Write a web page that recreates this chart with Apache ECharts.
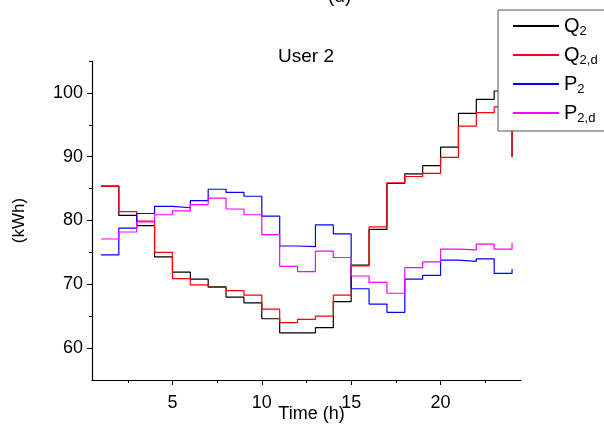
<!DOCTYPE html>
<html>
<head>
<meta charset="utf-8">
<script src="https://cdn.jsdelivr.net/npm/echarts@6/dist/echarts.min.js"></script>
<style>
	html, body { margin: 0; padding: 0; background: #fff; }
	#main { width: 604px; height: 430px; }
</style>
</head>
<body>
<div id="main"></div>
<script>
	// hours 1..24, each value holds until the next hour (step end)
	var hours = [1, 2, 3, 4, 5, 6, 7, 8, 9, 10, 11, 12, 13, 14, 15, 16, 17, 18, 19, 20, 21, 22, 23, 24]
	var q2 = [85.4, 80.8, 79.2, 74.3, 71.9, 70.8, 69.6, 68.0, 67.1, 64.6, 62.4, 62.4, 63.2, 67.3, 73.0, 78.6, 85.8, 87.3, 88.6, 91.5, 96.8, 99.0, 100.3, 90.0]
	var q2d = [85.4, 81.4, 79.9, 75.0, 70.9, 69.9, 69.5, 69.0, 68.3, 66.1, 64.0, 64.5, 65.0, 68.3, 72.9, 79.0, 85.9, 86.9, 87.4, 89.9, 94.8, 96.9, 97.8, 89.9]
	var p2 = [74.6, 78.8, 81.1, 82.2, 82.0, 83.1, 84.9, 84.4, 83.8, 80.7, 76.0, 75.9, 79.3, 77.9, 69.3, 66.9, 65.6, 70.8, 71.4, 73.8, 73.6, 74.0, 71.7, 72.4]
	var p2d = [77.1, 78.2, 79.8, 80.9, 81.5, 82.5, 83.5, 81.8, 80.9, 77.8, 72.8, 72.0, 75.2, 74.2, 71.3, 70.3, 68.6, 72.6, 73.5, 75.5, 75.4, 76.3, 75.5, 76.5]

	var xTicks = [5, 10, 15, 20]
	var xMinor = [2.5, 7.5, 12.5, 17.5, 22.5]
	var yTicks = [60, 70, 80, 90, 100]
	var yMinor = [65, 75, 85, 95, 105]

	var names = ['Q2', 'Q2,d', 'P2', 'P2,d']
	var colors = ['#000000', '#ff0000', '#0000ff', '#ff00ff']

	var font = 'Liberation Sans'

	function pairs(vals) {
		return hours.map(function (h, i) { return [h, vals[i]] })
	}

	function mkSeries(name, vals, color) {
		return {
			name: name,
			type: 'line',
			step: 'end',
			symbol: 'none',
			animation: false,
			data: pairs(vals),
			lineStyle: { color: color, width: 1.2 },
			itemStyle: { color: color }
		}
	}

	var axisBase = {
		type: 'value',
		splitLine: { show: false },
		axisLine: { onZero: false, lineStyle: { color: '#000', width: 1.2 } }
	}

	var chart = echarts.init(document.getElementById('main'))
	chart.setOption({
		animation: false,
		grid: { left: 92, right: 83, top: 61, bottom: 50, containLabel: false, outerBoundsMode: 'none' },
		graphic: [
			{ type: 'text', left: 328, top: -13, style: { text: '(d)', font: '19px ' + font, fill: '#000' } },
			{ type: 'text', left: 278, top: 47, style: { text: 'User 2', font: '19px ' + font, fill: '#000' } }
		],
		legend: {
			left: 498,
			top: 10,
			orient: 'vertical',
			padding: [6, 40, 6, 14],
			itemWidth: 46,
			itemHeight: 14,
			itemGap: 7,
			borderColor: '#555',
			borderWidth: 1,
			backgroundColor: '#fff',
			itemStyle: { opacity: 0 },
			data: names,
			formatter: function (n) {
				// first letter normal, rest as subscript
				return '{m|' + n.charAt(0) + '}{s|' + n.slice(1) + '}'
			},
			textStyle: {
				color: '#000',
				rich: {
					m: { fontFamily: font, fontSize: 20, lineHeight: 24, verticalAlign: 'middle', color: '#000' },
					s: { fontFamily: font, fontSize: 13, lineHeight: 24, verticalAlign: 'bottom', color: '#000' }
				}
			}
		},
		xAxis: [
			Object.assign({}, axisBase, {
				min: 0.5,
				max: 24.5,
				position: 'bottom',
				name: 'Time (h)',
				nameLocation: 'middle',
				nameGap: 25,
				nameMoveOverlap: false,
				nameTextStyle: { fontFamily: font, fontSize: 18, color: '#000', padding: [0, 0, 0, 10] },
				axisTick: { customValues: xTicks, length: 5, lineStyle: { color: '#000' } },
				axisLabel: { customValues: xTicks, margin: 14, fontFamily: font, fontSize: 18, color: '#000' }
			}),
			// minor ticks only
			Object.assign({}, axisBase, {
				min: 0.5,
				max: 24.5,
				position: 'bottom',
				axisLine: { show: false },
				axisTick: { customValues: xMinor, length: 3, lineStyle: { color: '#000' } },
				axisLabel: { show: false }
			})
		],
		yAxis: [
			Object.assign({}, axisBase, {
				min: 55,
				max: 105,
				name: '(kWh)',
				nameLocation: 'middle',
				nameGap: 64,
				nameMoveOverlap: false,
				nameTextStyle: { fontFamily: font, fontSize: 17, color: '#000' },
				axisTick: { customValues: yTicks, length: 5, lineStyle: { color: '#000' } },
				axisLabel: { customValues: yTicks, margin: 9, fontFamily: font, fontSize: 18, color: '#000' }
			}),
			Object.assign({}, axisBase, {
				min: 55,
				max: 105,
				position: 'left',
				axisLine: { show: false },
				axisTick: { customValues: yMinor, length: 3, lineStyle: { color: '#000' } },
				axisLabel: { show: false }
			})
		],
		series: [
			mkSeries(names[0], q2, colors[0]),
			mkSeries(names[1], q2d, colors[1]),
			mkSeries(names[2], p2, colors[2]),
			mkSeries(names[3], p2d, colors[3])
		]
	})
</script>
</body>
</html>
